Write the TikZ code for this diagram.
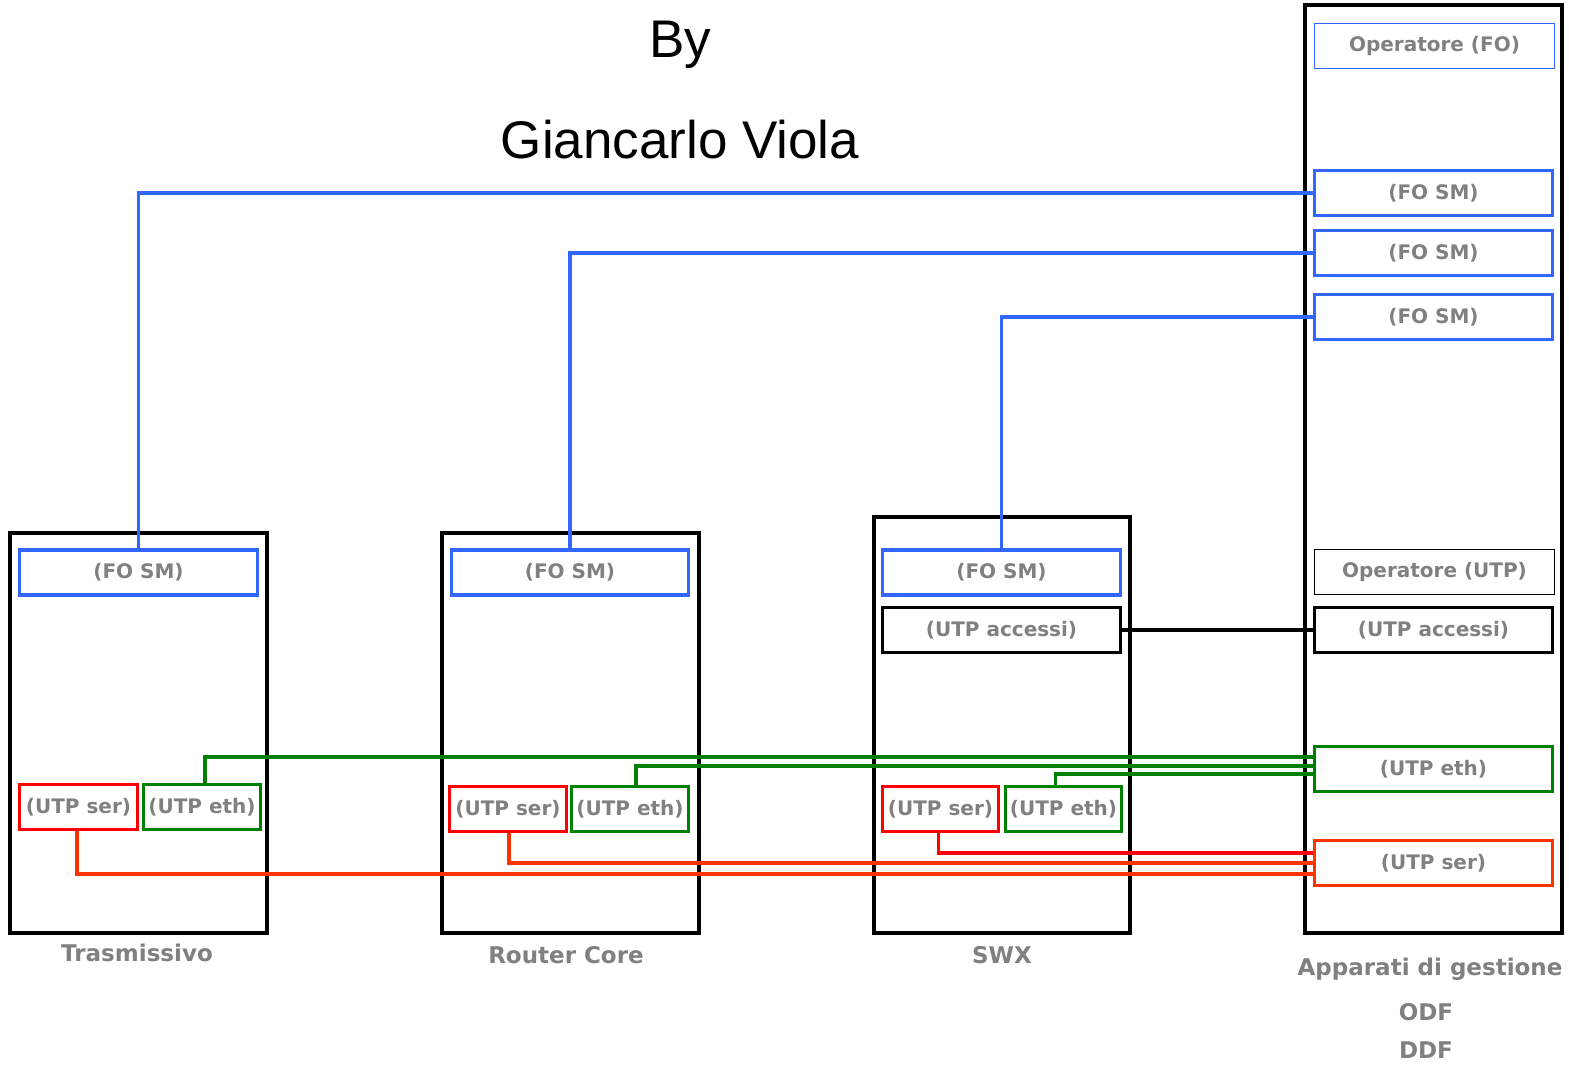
\documentclass[tikz,border=0pt]{standalone}
\usepackage{fontspec}
\usepackage{tikz}
\usetikzlibrary{calc}

\newfontfamily\titlefont{Liberation Sans}
\newfontfamily\boxfont{DejaVu Sans}

\definecolor{foblue}{RGB}{51,102,255}
\definecolor{ethgreen}{RGB}{0,128,0}
\definecolor{serred}{RGB}{255,0,0}
\definecolor{serorange}{RGB}{255,51,0}
\definecolor{txtgray}{RGB}{128,128,128}

\tikzset{
    port/.style={draw, line width=3.5pt, inner sep=0pt, minimum height=45pt,
        text=txtgray, font=\boxfont\bfseries\fontsize{20}{23}\selectfont},
    wide/.style={port, minimum width=238pt},
    half/.style={port, minimum width=117pt},
    rack/.style={draw=black, line width=4pt},
    racklabel/.style={text=txtgray, font=\boxfont\bfseries\fontsize{23}{27}\selectfont},
    link/.style={line width=3.5pt}
}

\begin{document}
\begin{tikzpicture}[x=1pt, y=-1pt]
    \useasboundingbox (0,0) rectangle (1569,1066);

    % Title
    \node (by) at (680,45) {\titlefont\fontsize{53}{60}\selectfont By};
    \node (author) at (680,140) {\titlefont\fontsize{53}{60}\selectfont Giancarlo Viola};

    % Draw the racks
    \draw[rack] (10,533) rectangle (267,933);
    \draw[rack] (442,533) rectangle (699,933);
    \draw[rack] (874,517) rectangle (1130,933);
    \draw[rack] (1305,5) rectangle (1562,933);

    % Rack labels
    \node[racklabel] (lTr) at (137,953) {Trasmissivo};
    \node[racklabel] (lRc) at (566,955) {Router Core};
    \node[racklabel] (lSw) at (1002,955) {SWX};
    \node[racklabel] (lOp) at (1430,969) {Apparati di gestione};
    \node[racklabel] (lOdf) at (1426,1012) {ODF};
    \node[racklabel] (lDdf) at (1426,1050) {DDF};

    % Trasmissivo ports
    \node[wide, draw=foblue] (trFO) at (138.5,572.5) {(FO SM)};
    \node[half, draw=serred, minimum width=118pt] (trSer) at (78.5,807) {(UTP ser)};
    \node[half, draw=ethgreen] (trEth) at (202,807) {(UTP eth)};

    % Router Core ports
    \node[wide, draw=foblue, minimum width=237pt] (rcFO) at (570,572.5) {(FO SM)};
    \node[half, draw=serred] (rcSer) at (508,809) {(UTP ser)};
    \node[half, draw=ethgreen] (rcEth) at (630,809) {(UTP eth)};

    % SWX ports
    \node[wide, draw=foblue] (swFO) at (1001.5,572.5) {(FO SM)};
    \node[wide, draw=black] (swAcc) at (1001.5,630) {(UTP accessi)};
    \node[half, draw=serred, minimum width=116pt] (swSer) at (940.5,809) {(UTP ser)};
    \node[half, draw=ethgreen, minimum width=116pt] (swEth) at (1063.5,809) {(UTP eth)};

    % ODF / DDF panels
    \node[wide, draw=foblue, line width=1.5pt, minimum width=240pt] (opFO) at (1434.5,46) {Operatore (FO)};
    \node[wide, draw=foblue] (fo1) at (1433.5,193) {(FO SM)};
    \node[wide, draw=foblue] (fo2) at (1433.5,253) {(FO SM)};
    \node[wide, draw=foblue] (fo3) at (1433.5,317) {(FO SM)};
    \node[wide, draw=black, line width=1.5pt, minimum width=240pt] (opUTP) at (1434.5,572) {Operatore (UTP)};
    \node[wide, draw=black] (opAcc) at (1433.5,630) {(UTP accessi)};
    \node[wide, draw=ethgreen] (opEth) at (1433.5,769) {(UTP eth)};
    \node[wide, draw=serorange] (opSer) at (1433.5,863) {(UTP ser)};

    % Fibre links
    \draw[link, foblue] (trFO.north) |- (fo1.west);
    \draw[link, foblue] (rcFO.north) |- (fo2.west);
    \draw[link, foblue] (swFO.north) |- (fo3.west);

    % Access link
    \draw[link, black] (swAcc.east) -- (opAcc.west);

    % Ethernet links
    \draw[link, ethgreen] ([xshift=3pt]trEth.north) |- ([yshift=12pt]opEth.west);
    \draw[link, ethgreen] ([xshift=6pt]rcEth.north) |- ([yshift=3pt]opEth.west);
    \draw[link, ethgreen] ([xshift=-8pt]swEth.north) |- ([yshift=-5pt]opEth.west);

    % Serial links
    \draw[link, serred] ([xshift=-2pt]swSer.south) |- ([yshift=10pt]opSer.west);
    \draw[link, serorange] ([xshift=1pt]rcSer.south) |- (opSer.west);
    \draw[link, serorange] ([xshift=-1.5pt]trSer.south) |- ([yshift=-11pt]opSer.west);
\end{tikzpicture}
\end{document}
